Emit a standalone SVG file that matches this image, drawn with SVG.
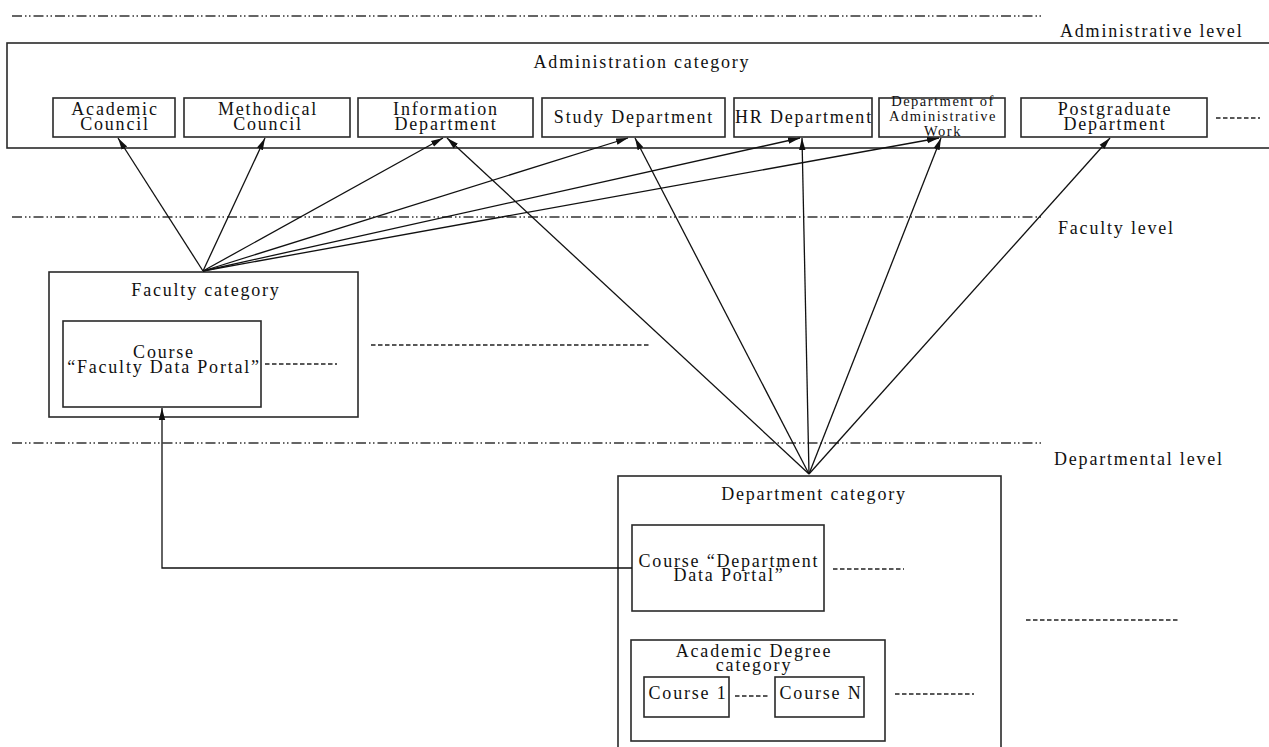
<svg xmlns="http://www.w3.org/2000/svg" width="1269" height="747" viewBox="0 0 1269 747">
<defs>
<style>
text{font-family:"Liberation Serif","Times New Roman",serif;font-size:18px;fill:#111;letter-spacing:1.8px}
.c{text-anchor:middle}
.sm{font-size:14.5px;letter-spacing:1.5px}
.box{fill:none;stroke:#2a2a2a;stroke-width:1.6}
.lvl{fill:none;stroke:#333;stroke-width:1.3;stroke-dasharray:10 3 1.5 2.5 1.5 3}
.dash{fill:none;stroke:#222;stroke-width:1.3;stroke-dasharray:4.5 2.5}
.conn{fill:none;stroke:#111;stroke-width:1.3}
</style>
<marker id="arr" viewBox="0 0 12 10" refX="12" refY="5" markerWidth="12" markerHeight="10" markerUnits="userSpaceOnUse" orient="auto">
<path d="M0,1.8 L12,5 L0,8.2 Z" fill="#111"/>
</marker>
</defs>
<rect width="1269" height="747" fill="#fff"/>

<g id="levels">
<line class="lvl" x1="12" y1="16" x2="1042" y2="16"/>
<line class="lvl" x1="12" y1="217" x2="1042" y2="217"/>
<line class="lvl" x1="12" y1="443" x2="1042" y2="443"/>
<text x="1060" y="37">Administrative level</text>
<text x="1058" y="234">Faculty level</text>
<text x="1054" y="465">Departmental level</text>
</g>

<g id="admin-category">
<rect class="box" x="7" y="43" width="1270" height="105"/>
<text class="c" x="642" y="68">Administration category</text>
<line class="dash" x1="1216" y1="118" x2="1260" y2="118"/>
</g>
<g id="academic-council">
<rect class="box" x="53" y="98" width="122" height="39"/>
<text class="c" x="115" y="115">Academic</text>
<text class="c" x="115" y="130">Council</text>
</g>
<g id="methodical-council">
<rect class="box" x="184" y="98" width="166" height="39"/>
<text class="c" x="268" y="115">Methodical</text>
<text class="c" x="268" y="130">Council</text>
</g>
<g id="information-department">
<rect class="box" x="358" y="98" width="175" height="39"/>
<text class="c" x="446" y="115">Information</text>
<text class="c" x="446" y="130">Department</text>
</g>
<g id="study-department">
<rect class="box" x="542" y="98" width="183" height="39"/>
<text class="c" x="634" y="123">Study Department</text>
</g>
<g id="hr-department">
<rect class="box" x="734" y="98" width="138" height="39"/>
<text class="c" x="804" y="123">HR Department</text>
</g>
<g id="administrative-work">
<rect class="box" x="879" y="98" width="126" height="39"/>
<text class="c sm" x="943" y="106">Department of</text>
<text class="c sm" x="943" y="121">Administrative</text>
<text class="c sm" x="943" y="136">Work</text>
</g>
<g id="postgraduate-department">
<rect class="box" x="1021" y="98" width="186" height="39"/>
<text class="c" x="1115" y="115">Postgraduate</text>
<text class="c" x="1115" y="130">Department</text>
</g>

<g id="faculty-category">
<rect class="box" x="49" y="272" width="309" height="145"/>
<text class="c" x="206" y="296">Faculty category</text>
<line class="dash" x1="371" y1="345" x2="651" y2="345"/>
</g>
<g id="faculty-data-portal">
<rect class="box" x="63" y="321" width="198" height="86"/>
<text class="c" x="164" y="358">Course</text>
<text class="c" x="164" y="373">“Faculty Data Portal”</text>
<line class="dash" x1="265" y1="364" x2="337" y2="364"/>
</g>

<g id="department-category">
<rect class="box" x="618" y="476" width="383" height="280"/>
<text class="c" x="814" y="500">Department category</text>
<line class="dash" x1="1026" y1="620" x2="1180" y2="620"/>
</g>
<g id="department-data-portal">
<rect class="box" x="632" y="525" width="192" height="86"/>
<text class="c" x="729" y="567">Course “Department</text>
<text class="c" x="729" y="581">Data Portal”</text>
<line class="dash" x1="833" y1="569" x2="904" y2="569"/>
</g>
<g id="academic-degree-category">
<rect class="box" x="631" y="640" width="254" height="101"/>
<text class="c" x="754" y="657">Academic Degree</text>
<text class="c" x="754" y="671">category</text>
<line class="dash" x1="735" y1="696" x2="769" y2="696"/>
<line class="dash" x1="895" y1="694" x2="974" y2="694"/>
</g>
<g id="course-1">
<rect class="box" x="644" y="677" width="85" height="40"/>
<text class="c" x="688" y="699">Course 1</text>
</g>
<g id="course-n">
<rect class="box" x="775" y="677" width="89" height="40"/>
<text class="c" x="821" y="699">Course N</text>
</g>

<g id="connectors">
<line class="conn" x1="203" y1="271" x2="118" y2="138" marker-end="url(#arr)"/>
<line class="conn" x1="203" y1="271" x2="265" y2="138" marker-end="url(#arr)"/>
<line class="conn" x1="203" y1="271" x2="443" y2="138" marker-end="url(#arr)"/>
<line class="conn" x1="203" y1="271" x2="628" y2="138" marker-end="url(#arr)"/>
<line class="conn" x1="203" y1="271" x2="800" y2="138" marker-end="url(#arr)"/>
<line class="conn" x1="203" y1="271" x2="939" y2="138" marker-end="url(#arr)"/>
<line class="conn" x1="809" y1="474" x2="447" y2="138" marker-end="url(#arr)"/>
<line class="conn" x1="809" y1="474" x2="635" y2="138" marker-end="url(#arr)"/>
<line class="conn" x1="809" y1="474" x2="802" y2="138" marker-end="url(#arr)"/>
<line class="conn" x1="809" y1="474" x2="941" y2="138" marker-end="url(#arr)"/>
<line class="conn" x1="809" y1="474" x2="1110" y2="138" marker-end="url(#arr)"/>
<path class="conn" d="M632,568 H162 V408" marker-end="url(#arr)"/>
</g>
</svg>
